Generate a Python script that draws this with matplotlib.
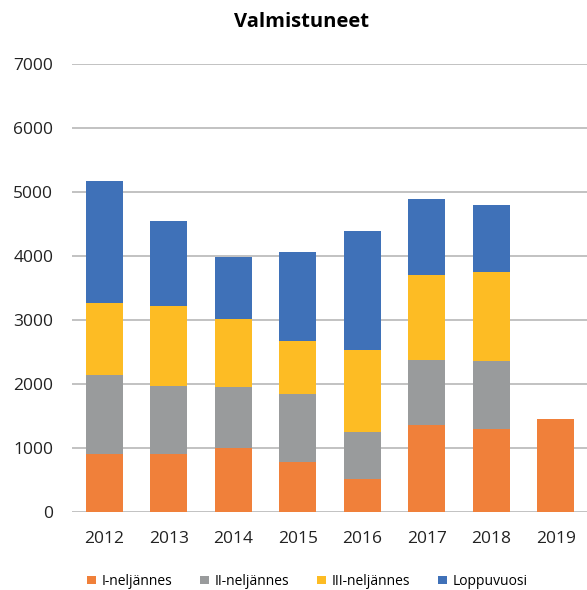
import numpy as np
import matplotlib
matplotlib.use("Agg")
import matplotlib.pyplot as plt

plt.rcParams['font.family'] = ['Open Sans', 'DejaVu Sans']

years = ['2012', '2013', '2014', '2015', '2016', '2017', '2018', '2019']
q1 = [910, 910, 1005, 776, 510, 1359, 1302, 1453]
q2 = [1236, 1054, 943, 1063, 745, 1011, 1052, 0]
q3 = [1114, 1250, 1068, 833, 1281, 1338, 1396, 0]
rest = [1917, 1333, 968, 1396, 1860, 1183, 1052, 0]

series = ['I-neljännes', 'II-neljännes', 'III-neljännes', 'Loppuvuosi']
colors = ['#F0803A', '#999B9C', '#FDBC24', '#3F71B8']
yticks = [0, 1000, 2000, 3000, 4000, 5000, 6000, 7000]

fig = plt.figure(figsize=(5.87, 5.9), dpi=100)
ax = fig.add_axes([72 / 587, 78 / 590, 516 / 587, 448 / 590])

x = np.arange(len(years))
bottom = np.zeros(len(years))
for vals, name, col in zip([q1, q2, q3, rest], series, colors):
    vals = np.array(vals, dtype=float)
    ax.bar(x, vals, 0.57, bottom=bottom, color=col, label=name, zorder=3)
    bottom += vals

ax.set_xlim(-0.5, len(years) - 0.5)
ax.set_ylim(0, 7000)
ax.set_yticks(yticks)
ax.set_yticklabels([str(v) for v in yticks])
ax.set_xticks(x)
ax.set_xticklabels(years)
ax.yaxis.grid(True, color='#B8B8B8', linewidth=1.2, zorder=0)
for s in ax.spines.values():
    s.set_visible(False)
ax.tick_params(axis='both', length=0, labelsize=12.5, colors='#222222')
ax.tick_params(axis='y', pad=13.5)
ax.tick_params(axis='x', pad=14)

fig.text(302 / 587, 1 - 22 / 590, 'Valmistuneet', ha='center', va='center',
         fontsize=14.5, fontweight='bold')

ax.legend(loc='center', bbox_to_anchor=(0.456, -0.155), ncol=4, frameon=False,
          fontsize=10, handlelength=0.6, handleheight=0.6, handletextpad=0.4,
          columnspacing=2.05)

fig.savefig('out.png', dpi=100)
